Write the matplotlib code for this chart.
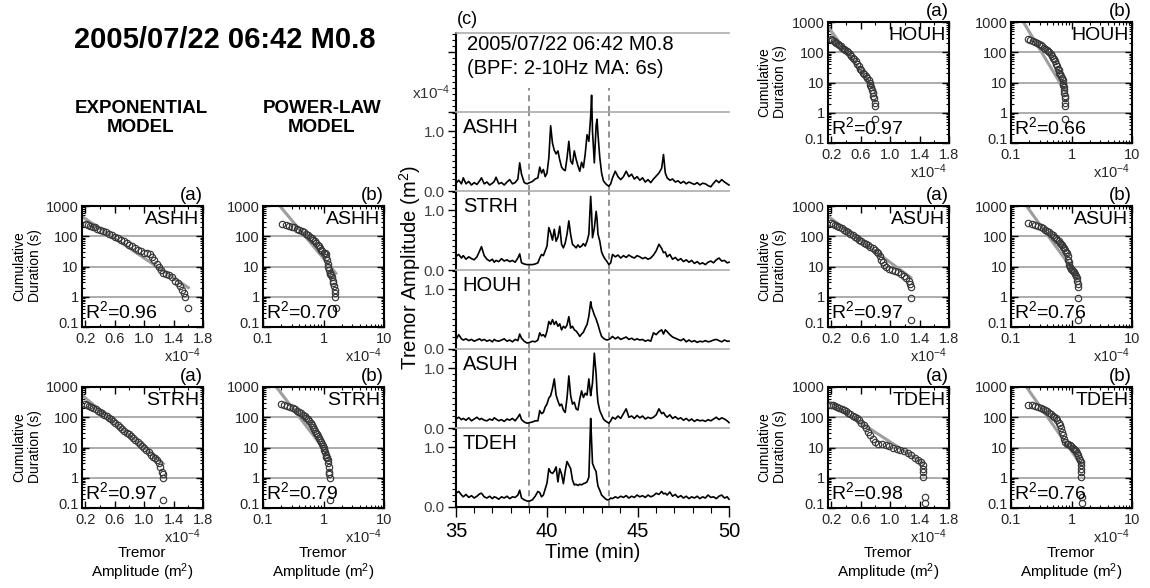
import numpy as np
import matplotlib
matplotlib.use("Agg")
import matplotlib.pyplot as plt
import matplotlib.transforms as mtransforms
from matplotlib.ticker import MultipleLocator, LogLocator, NullFormatter

plt.rcParams['font.family'] = ['Liberation Sans', 'DejaVu Sans']
plt.rcParams['mathtext.fontset'] = 'custom'
plt.rcParams['mathtext.rm'] = 'Liberation Sans'
plt.rcParams['mathtext.it'] = 'Liberation Sans:italic'
plt.rcParams['mathtext.bf'] = 'Liberation Sans:bold'

W, H = 1150, 588

# ---- (c) tremor amplitude envelopes (x1e-4 m^2) ----
time_min = [
    35.0, 35.15, 35.3, 35.4, 35.55, 35.7, 35.85, 36.0, 36.15, 36.3,
    36.4, 36.55, 36.7, 36.85, 37.0, 37.1, 37.2, 37.35, 37.5, 37.65,
    37.8, 37.95, 38.1, 38.25, 38.4, 38.5, 38.6, 38.75, 38.9, 39.05,
    39.2, 39.35, 39.5, 39.6, 39.7, 39.8, 39.9, 40.0, 40.1, 40.2,
    40.3, 40.4, 40.5, 40.6, 40.7, 40.8, 40.9, 41.0, 41.1, 41.2,
    41.3, 41.4, 41.5, 41.6, 41.7, 41.8, 41.9, 42.0, 42.1, 42.2,
    42.3, 42.4, 42.45, 42.5, 42.6, 42.7, 42.75, 42.8, 42.9, 43.0,
    43.1, 43.2, 43.3, 43.4, 43.5, 43.6, 43.75, 43.9, 44.05, 44.2,
    44.35, 44.5, 44.65, 44.8, 44.95, 45.1, 45.25, 45.4, 45.55, 45.7,
    45.85, 46.0, 46.15, 46.3, 46.4, 46.5, 46.6, 46.75, 46.9, 47.05,
    47.2, 47.35, 47.5, 47.65, 47.8, 47.95, 48.1, 48.25, 48.4, 48.55,
    48.7, 48.85, 49.0, 49.15, 49.3, 49.45, 49.6, 49.75, 49.9, 50.0,
]

env_ashh = [
    .13, .18, .12, .22, .12, .16, .10, .14, .11, .17,
    .22, .12, .15, .10, .13, .16, .23, .12, .14, .10,
    .15, .19, .12, .14, .20, .47, .28, .14, .12, .14,
    .16, .20, .22, .40, .30, .36, .24, .30, .55, 1.09,
    .80, .68, .62, .67, .52, .40, .36, .34, .55, .83,
    .50, .45, .67, .53, .42, .33, .48, .39, .62, .94,
    .83, 1.25, 1.60, 1.00, .47, 1.10, 1.20, .95, .56, .30,
    .17, .13, .10, .08, .12, .22, .33, .24, .19, .24,
    .33, .24, .28, .20, .24, .18, .22, .15, .19, .14,
    .20, .25, .30, .38, .61, .30, .22, .18, .20, .15,
    .17, .13, .16, .12, .15, .13, .11, .14, .10, .13,
    .12, .09, .07, .13, .18, .14, .19, .15, .12, .10,
]
env_strh = [
    .23, .26, .20, .24, .18, .22, .19, .17, .22, .32,
    .39, .24, .18, .15, .18, .13, .16, .14, .19, .15,
    .17, .14, .16, .13, .20, .27, .12, .10, .09, .09,
    .09, .10, .12, .20, .26, .24, .32, .40, .71, .62,
    .50, .68, .48, .55, .73, .43, .37, .45, .60, .82,
    .59, .43, .40, .37, .42, .38, .40, .44, .40, .48,
    .60, 1.23, .95, .54, .70, .98, .85, .60, .48, .30,
    .23, .18, .14, .09, .12, .26, .22, .25, .20, .24,
    .21, .25, .22, .20, .24, .22, .19, .21, .18, .20,
    .25, .32, .43, .36, .29, .30, .22, .26, .18, .21,
    .16, .19, .14, .17, .13, .16, .11, .14, .10, .12,
    .09, .13, .15, .12, .17, .20, .15, .16, .12, .13,
]
env_houh = [
    .16, .24, .17, .15, .17, .14, .16, .13, .15, .17,
    .14, .16, .13, .15, .12, .16, .14, .13, .15, .17,
    .13, .15, .12, .16, .14, .25, .18, .13, .10, .11,
    .13, .12, .15, .27, .22, .24, .20, .30, .46, .41,
    .49, .41, .46, .38, .42, .32, .38, .35, .40, .54,
    .35, .38, .32, .30, .26, .21, .25, .28, .35, .41,
    .55, .79, .70, .66, .57, .50, .45, .41, .30, .21,
    .18, .16, .15, .16, .18, .21, .17, .20, .16, .18,
    .20, .16, .18, .15, .17, .15, .16, .13, .15, .13,
    .27, .24, .29, .32, .25, .32, .29, .24, .20, .18,
    .16, .14, .17, .12, .15, .12, .14, .11, .13, .12,
    .14, .12, .13, .15, .16, .14, .12, .15, .13, .13,
]
env_asuh = [
    .15, .18, .14, .16, .13, .17, .12, .15, .18, .14,
    .16, .13, .12, .15, .13, .17, .15, .12, .14, .11,
    .15, .13, .16, .12, .18, .23, .14, .10, .08, .09,
    .10, .12, .12, .29, .24, .26, .35, .40, .50, .54,
    .66, .82, .55, .45, .37, .40, .30, .26, .50, .87,
    .54, .40, .43, .32, .30, .48, .62, .51, .58, .55,
    .82, .54, .65, .75, 1.25, .90, .60, .43, .29, .22,
    .15, .12, .10, .08, .12, .18, .15, .20, .16, .24,
    .32, .18, .20, .16, .21, .17, .20, .15, .18, .16,
    .18, .22, .32, .24, .26, .21, .18, .22, .16, .19,
    .15, .17, .13, .16, .12, .15, .11, .14, .12, .13,
    .11, .14, .12, .15, .18, .14, .17, .15, .12, .09,
]
env_tdeh = [
    .23, .26, .20, .17, .21, .16, .19, .15, .18, .22,
    .23, .17, .15, .18, .14, .17, .16, .13, .17, .15,
    .18, .14, .17, .16, .20, .28, .15, .12, .10, .10,
    .12, .18, .26, .24, .17, .20, .30, .40, .64, .58,
    .56, .60, .67, .42, .64, .55, .39, .60, .76, .70,
    .64, .45, .37, .38, .36, .38, .37, .39, .40, .42,
    .50, 1.48, 1.10, .73, .65, .59, .45, .35, .28, .20,
    .17, .14, .12, .12, .15, .14, .17, .15, .18, .16,
    .19, .15, .18, .16, .20, .17, .19, .16, .20, .17,
    .19, .23, .21, .26, .22, .23, .20, .25, .18, .21,
    .16, .19, .15, .18, .14, .17, .15, .18, .14, .17,
    .15, .20, .16, .17, .14, .18, .20, .15, .17, .13,
]
window_min = [39.0, 43.4]

# ---- (a)/(b) cumulative duration (s) vs tremor amplitude (x1e-4 m^2) ----
cd_amp_ashh = [0.21, 0.24, 0.27, 0.30, 0.33, 0.36, 0.40, 0.44, 0.48, 0.52,
               0.56, 0.60, 0.64, 0.68, 0.72, 0.76, 0.80, 0.84, 0.88, 0.92,
               0.96, 1.00, 1.04, 1.08, 1.11, 1.14, 1.17, 1.20, 1.23, 1.26,
               1.30, 1.34, 1.38, 1.42, 1.46, 1.49, 1.52, 1.54, 1.56, 1.60]
cd_dur_ashh = [250, 240, 225, 210, 195, 180, 162, 148, 135, 123,
               110, 98, 88, 78, 68, 59, 52, 46, 41, 36,
               32, 29, 27, 25, 21, 16, 12, 9.5, 7.5, 6.3,
               5.8, 5.3, 4.5, 3.4, 2.8, 2.2, 1.7, 1.3, 1.0, 0.43]
cd_amp_strh = [0.20, 0.22, 0.25, 0.28, 0.31, 0.34, 0.37, 0.40, 0.43, 0.46,
               0.49, 0.52, 0.55, 0.58, 0.61, 0.64, 0.67, 0.70, 0.73, 0.76,
               0.79, 0.82, 0.85, 0.88, 0.91, 0.94, 0.97, 1.00, 1.03, 1.06,
               1.09, 1.12, 1.15, 1.18, 1.20, 1.22, 1.24, 1.25, 1.26, 1.26]
cd_dur_strh = [265, 260, 240, 220, 200, 185, 165, 150, 135, 120,
               108, 98, 86, 74, 64, 56, 49, 42, 36, 31,
               27, 23.5, 20, 17.5, 15.5, 13.5, 11.5, 9.8, 8.3, 7.0,
               5.8, 4.9, 4.4, 3.8, 3.0, 2.2, 1.6, 1.3, 1.0, 0.19]
cd_amp_houh = [0.19, 0.21, 0.23, 0.25, 0.27, 0.29, 0.31, 0.33, 0.35, 0.37,
               0.39, 0.41, 0.43, 0.45, 0.47, 0.49, 0.51, 0.53, 0.55, 0.57,
               0.59, 0.61, 0.63, 0.65, 0.67, 0.69, 0.71, 0.72, 0.73, 0.74,
               0.75, 0.76, 0.77, 0.78, 0.79, 0.79, 0.79]
cd_dur_houh = [275, 255, 235, 215, 200, 185, 170, 155, 140, 128,
               117, 108, 100, 88, 77, 66, 58, 50, 42, 35,
               29, 25, 21, 18.5, 16, 14, 12, 10, 8.5, 7,
               5.5, 4.5, 3.6, 3.0, 2.1, 1.7, 0.6]
cd_amp_asuh = [0.19, 0.22, 0.25, 0.28, 0.31, 0.34, 0.37, 0.40, 0.43, 0.46,
               0.49, 0.52, 0.55, 0.58, 0.61, 0.64, 0.67, 0.70, 0.73, 0.76,
               0.79, 0.82, 0.84, 0.86, 0.88, 0.90, 0.92, 0.95, 0.99, 1.03,
               1.07, 1.11, 1.15, 1.19, 1.22, 1.25, 1.27, 1.28, 1.28, 1.28]
cd_dur_asuh = [275, 255, 235, 215, 200, 185, 165, 150, 135, 122,
               110, 98, 87, 78, 70, 62, 55, 50, 45, 40,
               35, 31, 27, 22, 17, 14, 11.5, 9.5, 8.3, 7.6,
               7.0, 6.5, 5.8, 5.0, 4.2, 3.4, 2.7, 2.1, 0.93, 0.17]
cd_amp_tdeh = [0.19, 0.22, 0.25, 0.28, 0.31, 0.34, 0.37, 0.40, 0.43, 0.46,
               0.49, 0.52, 0.55, 0.58, 0.61, 0.64, 0.67, 0.70, 0.73, 0.76,
               0.79, 0.84, 0.89, 0.94, 0.99, 1.04, 1.09, 1.14, 1.19, 1.24,
               1.29, 1.34, 1.38, 1.42, 1.44, 1.45, 1.45, 1.45, 1.47, 1.47]
cd_dur_tdeh = [260, 245, 235, 222, 210, 192, 175, 160, 142, 128,
               114, 102, 92, 80, 66, 54, 43, 33, 25, 19,
               15, 13.5, 12.8, 12, 11, 9.8, 9.0, 8.3, 7.5, 6.6,
               5.6, 4.6, 4.0, 3.3, 2.6, 2.0, 1.5, 1.05, 0.23, 0.15]

# fitted model lines: end points ([amplitudes], [durations])
exp_fit_ashh = ([0.155, 1.60], [450, 2.0])
exp_fit_strh = ([0.155, 1.26], [540, 2.9])
exp_fit_houh = ([0.155, 0.80], [700, 5.0])
exp_fit_asuh = ([0.155, 1.28], [460, 4.3])
exp_fit_tdeh = ([0.155, 1.45], [330, 3.0])
pow_fit_ashh = ([0.19, 1.60], [1000, 6.0])
pow_fit_strh = ([0.166, 1.26], [1000, 5.0])
pow_fit_houh = ([0.16, 0.79], [1000, 5.0])
pow_fit_asuh = ([0.18, 1.28], [1000, 4.5])
pow_fit_tdeh = ([0.18, 1.45], [1000, 2.6])

r2_exp = [0.96, 0.97, 0.97, 0.97, 0.98]
r2_pow = [0.70, 0.79, 0.66, 0.76, 0.76]
stations = ['ASHH', 'STRH', 'HOUH', 'ASUH', 'TDEH']


def fx(x):
    return x / W


def fy(y):
    return 1 - y / H


def px_axes(fig, left, top, w, h):
    return fig.add_axes([left / W, 1 - (top + h) / H, w / W, h / H])


def cumdur_panel(fig, ax, amp, dur, fit, name, r2, tag, logx):
    for g in (1, 10, 100):
        ax.axhline(g, color='0.62', lw=1.2, zorder=1)
    ax.plot(fit[0], fit[1], color='0.62', lw=2.2, zorder=2)
    ax.plot(amp, dur, 'o', mfc='none', mec='0.22', ms=4.6, mew=0.85, zorder=3)
    ax.set_yscale('log')
    ax.set_ylim(0.1, 1000)
    ax.set_yticks([0.1, 1, 10, 100, 1000])
    ax.set_yticklabels(['0.1', '1', '10', '100', '1000'])
    ax.yaxis.set_minor_locator(LogLocator(base=10, subs=np.arange(2, 10)))
    ax.yaxis.set_minor_formatter(NullFormatter())
    if logx:
        ax.set_xscale('log')
        ax.set_xlim(0.1, 10)
        ax.set_xticks([0.1, 1, 10])
        ax.set_xticklabels(['0.1', '1', '10'])
        ax.xaxis.set_minor_locator(LogLocator(base=10, subs=np.arange(2, 10)))
        ax.xaxis.set_minor_formatter(NullFormatter())
    else:
        ax.set_xlim(0.155, 1.8)
        ax.set_xticks([0.2, 0.6, 1.0, 1.4, 1.8])
        ax.set_xticklabels(['0.2', '0.6', '1.0', '1.4', '1.8'])
        ax.xaxis.set_minor_locator(MultipleLocator(0.2))
    ax.tick_params(which='both', direction='in', top=True, right=True,
                   labelsize=10.5, pad=2.5, labelcolor='0.15')
    ax.tick_params(axis='x', pad=3.5)
    ax.tick_params(which='major', length=5, width=1)
    ax.tick_params(which='minor', length=2.5, width=0.8)
    # lift the lowest y label a little so it clears the x labels
    lab = ax.get_yticklabels()[0]
    lab.set_transform(lab.get_transform() +
                      mtransforms.ScaledTranslation(0, 3 / 72, fig.dpi_scale_trans))
    for s in ax.spines.values():
        s.set_linewidth(1.5)
    ax.text(1.0, 1.015, tag, transform=ax.transAxes, ha='right', va='bottom', fontsize=13.5)
    ax.text(0.97, 0.955, name, transform=ax.transAxes, ha='right', va='top', fontsize=14)
    ax.text(0.025, 0.04, 'R$^2$=%.2f' % r2, transform=ax.transAxes,
            ha='left', va='bottom', fontsize=14)
    ax.text(0.98, -0.235, 'x10$^{-4}$', transform=ax.transAxes,
            ha='right', va='center', fontsize=10.5, color='0.15')


def main():
    fig = plt.figure(figsize=(W / 100, H / 100), dpi=100)

    # ---------- left / right columns ----------
    cd_amp = [cd_amp_ashh, cd_amp_strh, cd_amp_houh, cd_amp_asuh, cd_amp_tdeh]
    cd_dur = [cd_dur_ashh, cd_dur_strh, cd_dur_houh, cd_dur_asuh, cd_dur_tdeh]
    exp_fits = [exp_fit_ashh, exp_fit_strh, exp_fit_houh, exp_fit_asuh, exp_fit_tdeh]
    pow_fits = [pow_fit_ashh, pow_fit_strh, pow_fit_houh, pow_fit_asuh, pow_fit_tdeh]
    # (exp column x, power column x, top y) in pixels for each station
    where = [(82, 263, 206), (82, 263, 387), (828, 1011, 22), (828, 1011, 206), (828, 1011, 387)]
    for i, name in enumerate(stations):
        xe, xp, top = where[i]
        ax = px_axes(fig, xe, top, 121, 121)
        cumdur_panel(fig, ax, cd_amp[i], cd_dur[i], exp_fits[i], name, r2_exp[i], '(a)', False)
        ax = px_axes(fig, xp, top, 121, 121)
        cumdur_panel(fig, ax, cd_amp[i], cd_dur[i], pow_fits[i], name, r2_pow[i], '(b)', True)
        ylx = 27 if xe < 400 else 772
        fig.text(fx(ylx), fy(top + 60), 'Cumulative\nDuration (s)', rotation=90,
                 ha='center', va='center', fontsize=10, linespacing=1.15)

    for xc in (142, 323, 888, 1071):
        fig.text(fx(xc), fy(553), 'Tremor', ha='center', va='center', fontsize=11)
        fig.text(fx(xc), fy(572), 'Amplitude (m$^2$)', ha='center', va='center', fontsize=11)

    fig.text(fx(225), fy(40), '2005/07/22 06:42 M0.8', ha='center', va='center',
             fontsize=21, weight='bold')
    fig.text(fx(141), fy(118), 'EXPONENTIAL\nMODEL', ha='center', va='center',
             fontsize=13.5, weight='bold', linespacing=1.2)
    fig.text(fx(322), fy(118), 'POWER-LAW\nMODEL', ha='center', va='center',
             fontsize=13.5, weight='bold', linespacing=1.2)

    # ---------- (c) stacked envelopes ----------
    envs = [env_ashh, env_strh, env_houh, env_asuh, env_tdeh]
    slot = 79
    axes = []
    for k in range(6):
        ax = px_axes(fig, 456, 33 + slot * k, 273, slot)
        ax.patch.set_visible(False)
        ax.set_xlim(35, 50)
        ax.set_ylim(0, 1.32)
        ax.spines['right'].set_visible(False)
        ax.spines['top'].set_color('0.68')
        ax.spines['top'].set_linewidth(1.2)
        ax.spines['left'].set_linewidth(1.5)
        ax.spines['bottom'].set_visible(k == 5)
        ax.spines['bottom'].set_linewidth(1.5)
        ax.set_yticks([0.0, 1.0])
        if k == 0:
            ax.set_yticklabels(['', ''])
        else:
            ax.set_yticklabels(['0.0', '1.0'])
        ax.yaxis.set_minor_locator(MultipleLocator(0.1))
        ax.tick_params(axis='y', which='both', direction='out', labelsize=11,
                       labelcolor='0.25', pad=2)
        ax.tick_params(axis='y', which='major', length=6, width=1)
        ax.tick_params(axis='y', which='minor', length=3, width=0.8)
        if k == 5:
            ax.set_xticks([35, 40, 45, 50])
            ax.xaxis.set_minor_locator(MultipleLocator(1))
            ax.tick_params(axis='x', which='both', direction='out', labelsize=14.5, pad=4)
            ax.tick_params(axis='x', which='major', length=7, width=1)
            ax.tick_params(axis='x', which='minor', length=4, width=0.8)
        else:
            ax.tick_params(axis='x', which='both', bottom=False, labelbottom=False)
        for t in window_min:
            if k == 0:
                ax.axvline(t, ymin=0, ymax=0.3, color='0.45', lw=1.1, ls=(0, (4, 3)))
            else:
                ax.axvline(t, color='0.45', lw=1.1, ls=(0, (4, 3)))
        axes.append(ax)

    for ax, env, name in zip(axes[1:], envs, stations):
        ax.plot(time_min, env, color='k', lw=1.2, clip_on=False, zorder=5)
        ax.text(0.025, 0.8, name, transform=ax.transAxes, ha='left', va='center',
                fontsize=14.5)

    axes[0].text(0.04, 0.85, '2005/07/22 06:42 M0.8', transform=axes[0].transAxes,
                 ha='left', va='center', fontsize=14.5)
    axes[0].text(0.04, 0.55, '(BPF: 2-10Hz MA: 6s)', transform=axes[0].transAxes,
                 ha='left', va='center', fontsize=14.5)
    fig.text(fx(457), fy(19), '(c)', ha='left', va='center', fontsize=13)
    fig.text(fx(450), fy(93), 'x10$^{-4}$', ha='right', va='center', fontsize=11, color='0.2')
    fig.text(fx(410), fy(268), 'Tremor Amplitude (m$^2$)', rotation=90,
             ha='center', va='center', fontsize=14.5)
    fig.text(fx(593), fy(552), 'Time (min)', ha='center', va='center', fontsize=14.5)

    fig.savefig('out.png', dpi=100)


if __name__ == "__main__":
    main()
